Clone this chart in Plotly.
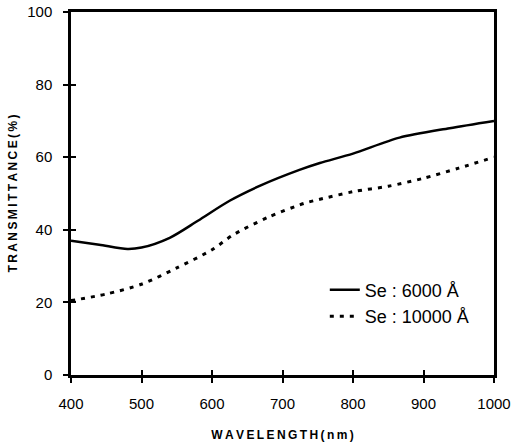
import plotly.graph_objects as go

wl_solid = [400, 440, 480, 500, 540, 580, 625, 670, 724, 753, 800, 866, 937, 1000]
t_solid = [37, 35.9, 34.7, 35.1, 37.8, 42.5, 48.0, 52.3, 56.5, 58.4, 61, 65.4, 68, 70]

wl_dash = [400, 450, 500, 550, 600, 630, 680, 731, 753, 800, 850, 900, 950, 1000]
t_dash = [20.5, 22.3, 25, 29.5, 34.5, 38.6, 43.5, 47.3, 48.4, 50.5, 52, 54.2, 57, 60]

x_ticks = [400, 500, 600, 700, 800, 900, 1000]
y_ticks = [0, 20, 40, 60, 80, 100]

sp = "\u2009"
x_title = sp.join("WAVELENGTH(nm)")
y_title = sp.join("TRANSMITTANCE(%)")

fig = go.Figure()
fig.add_trace(go.Scatter(x=wl_solid, y=t_solid, mode="lines", name="Se : 6000 Å",
                         line=dict(color="black", width=2.5, shape="spline", smoothing=0.8)))
fig.add_trace(go.Scatter(x=wl_dash, y=t_dash, mode="lines", name="Se : 10000 Å",
                         line=dict(color="black", width=3, dash="4px,6px", shape="spline", smoothing=0.8)))
fig.add_trace(go.Scatter(x=[400, 1000], y=[0, 100], mode="markers", xaxis="x2", yaxis="y2",
                         marker=dict(opacity=0), showlegend=False, hoverinfo="skip"))

font = dict(family="Liberation Sans, Arial", color="black")
fig.update_layout(
    width=518, height=442,
    margin=dict(l=71, r=24, t=12, b=67, autoexpand=False),
    plot_bgcolor="white", paper_bgcolor="white",
    showlegend=True,
    legend=dict(x=0.6, y=0.285, xanchor="left", yanchor="top",
                font=dict(family="Liberation Sans, Arial", size=18, color="black"),
                bgcolor="rgba(0,0,0,0)", tracegroupgap=0, itemwidth=30),
    xaxis=dict(range=[400, 1000], tickvals=x_ticks, ticks="outside", ticklen=5, tickwidth=1.5,
               tickcolor="black", showline=True, linecolor="black", linewidth=2.5, mirror=True,
               showgrid=False, zeroline=False, tickfont=dict(size=15, **font), automargin=False,
               ticklabelstandoff=8,
               title=dict(text="<b>" + x_title + "</b>", font=dict(size=12, **font), standoff=20)),
    yaxis=dict(range=[0, 100], tickvals=y_ticks, ticks="outside", ticklen=5, tickwidth=1.5,
               tickcolor="black", showline=True, linecolor="black", linewidth=2.5, mirror=True,
               showgrid=False, zeroline=False, tickfont=dict(size=15, **font), automargin=False,
               ticklabelstandoff=8,
               title=dict(text="<b>" + y_title + "</b>", font=dict(size=12, **font), standoff=8)),
    xaxis2=dict(range=[400, 1000], tickvals=x_ticks, ticks="inside", ticklen=5, tickwidth=1.5,
                tickcolor="black", showticklabels=False, showline=False, showgrid=False,
                zeroline=False, overlaying="x", anchor="y2", side="bottom"),
    yaxis2=dict(range=[0, 100], tickvals=y_ticks, ticks="inside", ticklen=5, tickwidth=1.5,
                tickcolor="black", showticklabels=False, showline=False, showgrid=False,
                zeroline=False, overlaying="y", anchor="x2", side="left"),
)

fig.write_html("out.html")
